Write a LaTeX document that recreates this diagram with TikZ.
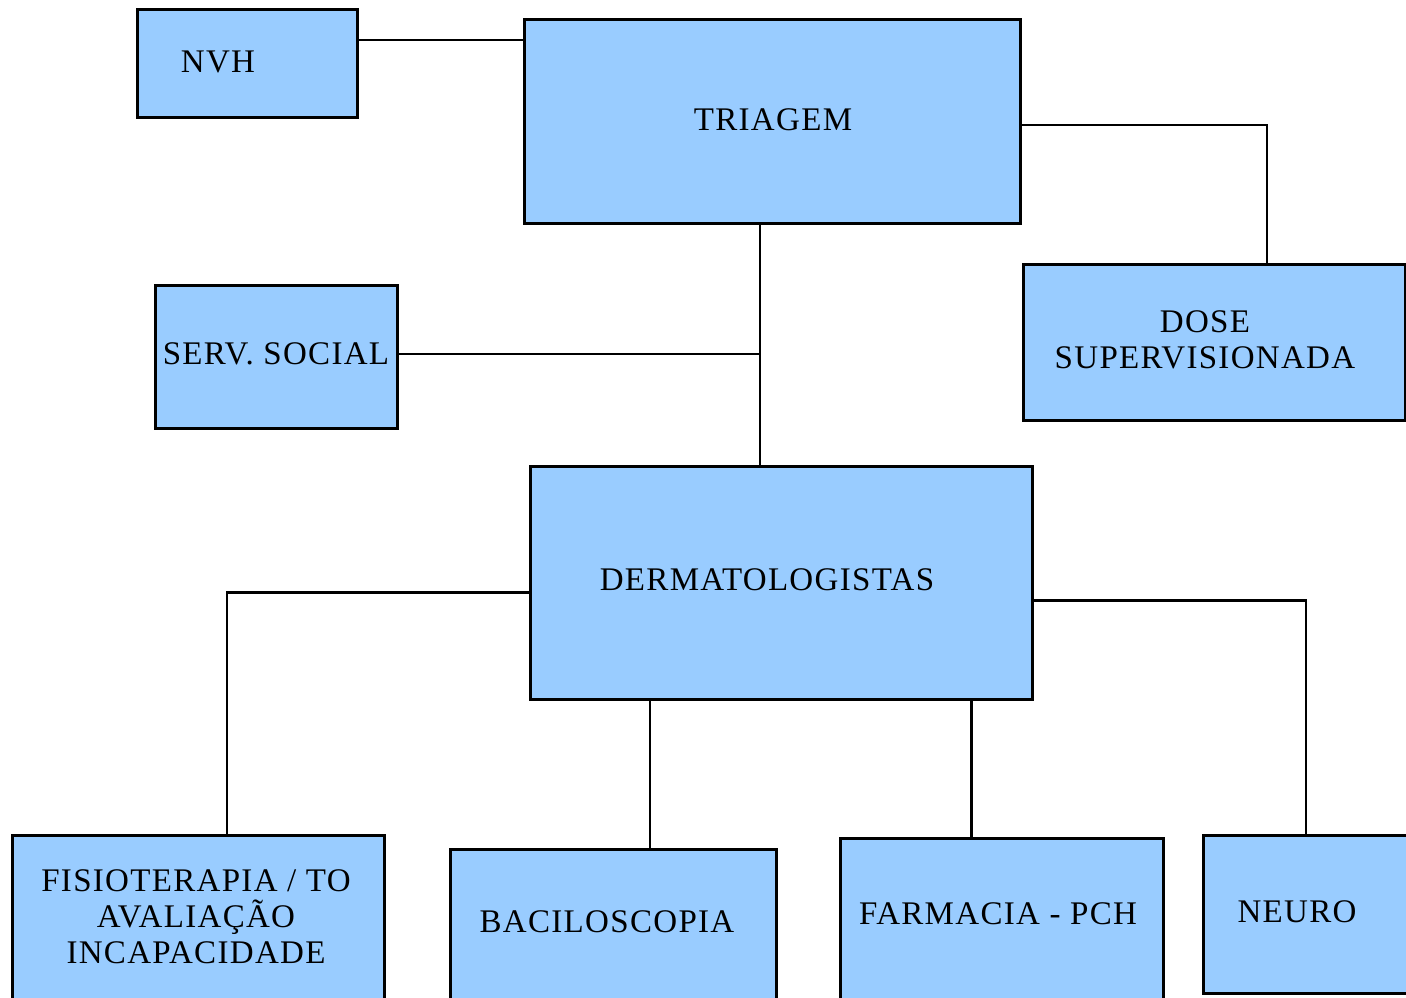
\documentclass[tikz,border=0pt]{standalone}
\usepackage{fontspec}
\setmainfont[LetterSpace=4]{Liberation Serif}
\definecolor{boxblue}{HTML}{99CCFF}

\begin{document}
\begin{tikzpicture}[x=1pt,y=-1pt]

      \useasboundingbox (0,0) rectangle (1406,997);

      \begin{scope}[every node/.style={rectangle, draw, fill=boxblue, line width=3pt, inner sep=0pt}]
        \node[minimum width=220pt, minimum height=108pt] (nvh)      at (247,63)    {};
        \node[minimum width=496pt, minimum height=204pt] (triagem)  at (772,121)   {};
        \node[minimum width=382pt, minimum height=156pt] (dose)     at (1214,342)  {};
        \node[minimum width=242pt, minimum height=143pt] (serv)     at (276,356.5) {};
        \node[minimum width=502pt, minimum height=233pt] (derm)     at (781,582.5) {};
        \node[minimum width=372pt, minimum height=180pt] (fisio)    at (198,925)   {};
        \node[minimum width=326pt, minimum height=160pt] (bacilo)   at (613,929)   {};
        \node[minimum width=323pt, minimum height=170pt] (farmacia) at (1001.5,923) {};
        \node[minimum width=224pt, minimum height=158pt] (neuro)    at (1315,914)  {};
      \end{scope}

      \begin{scope}[every node/.style={font=\fontsize{33}{36}\selectfont, align=center, inner sep=0pt}]
        \node (nvh text)      at (218,62)   {NVH};
        \node (triagem text)  at (773,120)  {TRIAGEM};
        \node (dose text)     at (1205,340) {DOSE\\SUPERVISIONADA};
        \node (serv text)     at (276,354)  {SERV. SOCIAL};
        \node (derm text)     at (767,580)  {DERMATOLOGISTAS};
        \node (fisio text)    at (196,917)  {FISIOTERAPIA / TO\\AVALIAÇÃO\\INCAPACIDADE};
        \node (bacilo text)   at (607,922)  {BACILOSCOPIA};
        \node (farmacia text) at (998,914)  {FARMACIA - PCH};
        \node (neuro text)    at (1297,912) {NEURO};
      \end{scope}

      \begin{scope}[line width=2.5pt]
        \coordinate (hub)  at (760,354);
        \coordinate (bac)  at ([xshift=37pt]bacilo.north);
        \coordinate (farm) at ([xshift=-30pt]farmacia.north);
        \draw ([yshift=23pt]nvh.east) -- ([yshift=23pt]nvh.east -| triagem.west);
        \draw ([yshift=-4pt]triagem.east) -| ([xshift=53pt]dose.north);
        \draw (triagem.south -| hub) -- (derm.north -| hub);
        \draw (serv.east |- hub) -- (hub);
        \draw ([yshift=-10pt]derm.west) -| ([xshift=29pt]fisio.north);
        \draw (bac |- derm.south) -- (bac);
        \draw (farm |- derm.south) -- (farm);
        \draw ([yshift=-18pt]derm.east) -| ([xshift=-9pt]neuro.north);
      \end{scope}

    \end{tikzpicture}
\end{document}
